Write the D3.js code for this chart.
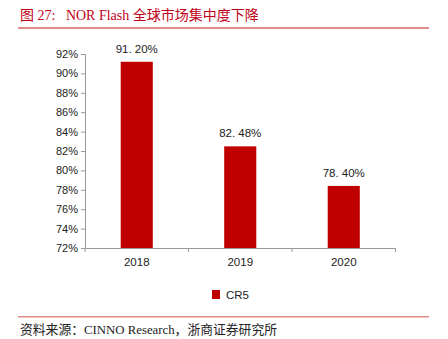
<!DOCTYPE html>
<html>
<head>
<meta charset="utf-8">
<script src="https://cdn.jsdelivr.net/npm/d3@7/dist/d3.min.js"></script>
<style>
  body { margin: 0; background: #fff; }
  svg { display: block; }
</style>
</head>
<body>
<svg id="chart" width="448" height="339"></svg>
<script>
var years = ["2018", "2019", "2020"];
var cr5 = [91.2, 82.48, 78.4];
var yTicks = [72, 74, 76, 78, 80, 82, 84, 86, 88, 90, 92];
var seriesName = "CR5";
var titleText = "图 27:   NOR Flash 全球市场集中度下降";
var sourceText = "资料来源：CINNO Research，浙商证券研究所";

var svg = d3.select("#chart");
var serif = "'Liberation Serif', 'Noto Sans CJK SC', serif";
var sans = "Arial, 'Liberation Sans', sans-serif";

// header
svg.append("text")
    .attr("x", 20).attr("y", 20)
    .attr("fill", "#c00018")
    .attr("font-family", serif)
    .attr("font-size", 14)
    .attr("xml:space", "preserve")
    .text(titleText);

svg.append("rect")
    .attr("x", 18).attr("y", 27).attr("width", 411).attr("height", 2)
    .attr("fill", "#e38a8a");

// plot area
var x = d3.scaleBand()
    .domain(years)
    .range([85, 395.5])
    .paddingInner(0.69)
    .paddingOuter(0.345);

var y = d3.scaleLinear()
    .domain([72, 92])
    .range([248, 54]);

var yAxis = svg.append("g")
    .attr("transform", "translate(85,0)")
    .call(d3.axisLeft(y).tickValues(yTicks).tickSize(4).tickFormat(d => d + "%"));

var xAxis = svg.append("g")
    .attr("transform", "translate(0,248)")
    .call(d3.axisBottom(x).tickSize(0).tickPadding(10));

// tick marks between categories
var step = x.step();
svg.append("g").selectAll("line")
    .data(d3.range(years.length + 1))
    .join("line")
    .attr("x1", i => 85 + i * step)
    .attr("x2", i => 85 + i * step)
    .attr("y1", 248).attr("y2", 252)
    .attr("stroke", "#999");

[yAxis, xAxis].forEach(function(g) {
    g.selectAll("path.domain").attr("stroke", "#999");
    g.selectAll(".tick line").attr("stroke", "#999");
    g.selectAll("text")
        .attr("fill", "#222")
        .attr("font-family", sans)
        .attr("font-size", 11);
});
xAxis.selectAll("text").attr("font-size", 11.5);

// bars
svg.append("g").selectAll("rect")
    .data(cr5)
    .join("rect")
    .attr("x", (d, i) => x(years[i]))
    .attr("width", x.bandwidth())
    .attr("y", d => y(d))
    .attr("height", d => y(72) - y(d))
    .attr("fill", "#c00000");

svg.append("g").selectAll("text")
    .data(cr5)
    .join("text")
    .attr("x", (d, i) => x(years[i]) + x.bandwidth() / 2)
    .attr("y", d => y(d) - 9)
    .attr("text-anchor", "middle")
    .attr("fill", "#222")
    .attr("font-family", sans)
    .attr("font-size", 11.5)
    .attr("xml:space", "preserve")
    .text(d => d3.format(".2f")(d).replace(".", ". ") + "%");

// legend
svg.append("rect")
    .attr("x", 212).attr("y", 290).attr("width", 8).attr("height", 9)
    .attr("fill", "#c00000");
svg.append("text")
    .attr("x", 226).attr("y", 299)
    .attr("fill", "#222")
    .attr("font-family", sans)
    .attr("font-size", 11.5)
    .text(seriesName);

// footer
svg.append("rect")
    .attr("x", 18).attr("y", 316).attr("width", 411).attr("height", 1.5)
    .attr("fill", "#e38a8a");

svg.append("text")
    .attr("x", 20).attr("y", 334)
    .attr("fill", "#222")
    .attr("font-family", serif)
    .attr("font-size", 12.8)
    .text(sourceText);
</script>
</body>
</html>
